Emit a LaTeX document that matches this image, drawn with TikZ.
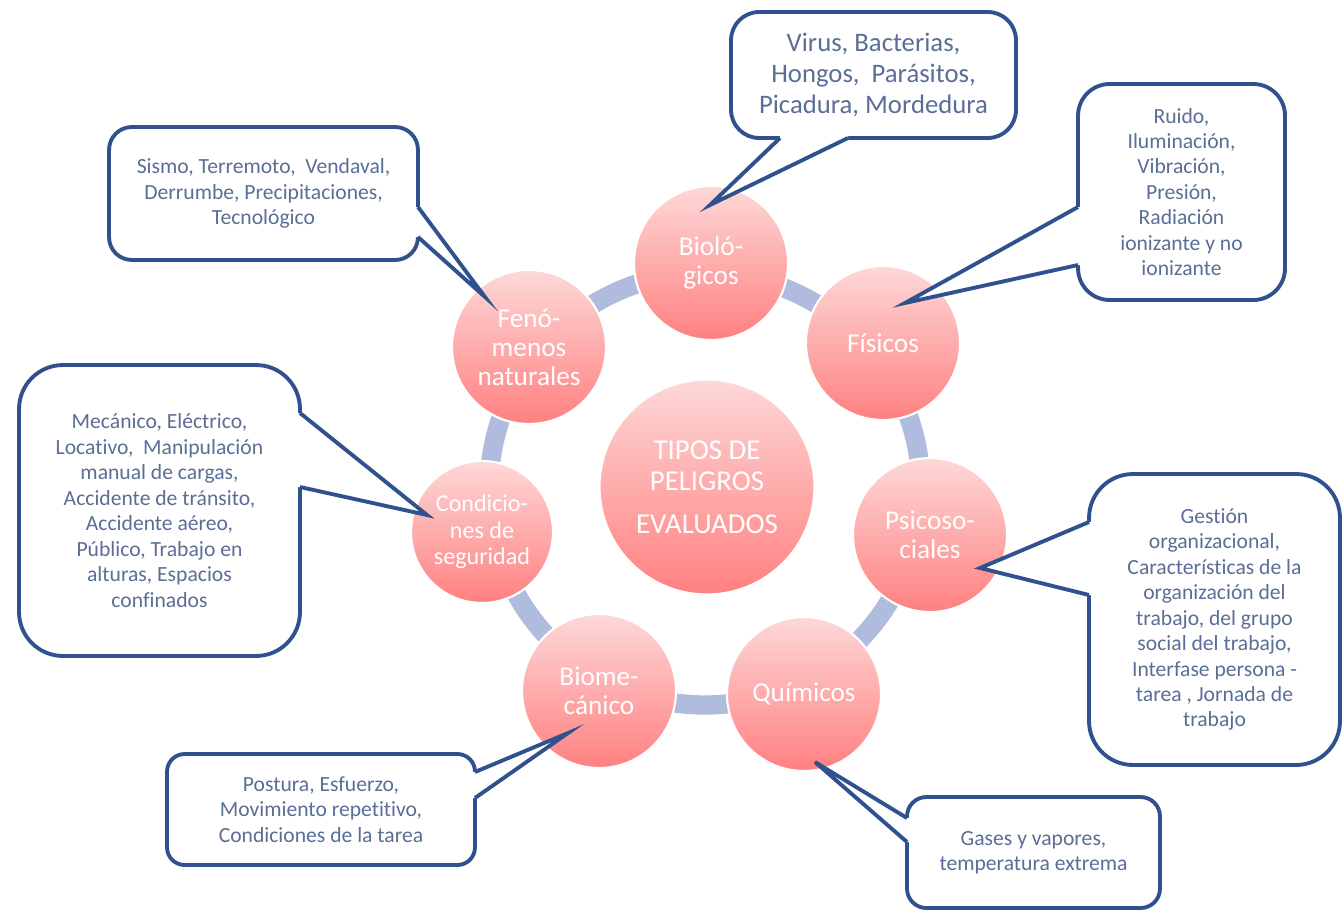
\documentclass[tikz,border=0pt]{standalone}
\usepackage{fontspec}
\setmainfont{Carlito}[Ligatures=CommonOff]
\definecolor{calloutblue}{RGB}{47,82,143}
\definecolor{callouttext}{RGB}{90,110,150}
\definecolor{ringblue}{RGB}{176,188,222}
\definecolor{pinklight}{RGB}{254,216,216}
\definecolor{pinkdark}{RGB}{255,128,128}
\tikzset{
  hazard/.style={circle, draw=white, line width=1.2pt, top color=pinklight, bottom color=pinkdark,
    text=white, align=center, inner sep=0pt, minimum size=3.08cm, font=\fontsize{15.5}{16.4}\selectfont},
  callout/.style={draw=calloutblue, line width=2.2pt, fill=white, text=callouttext, align=center,
    inner sep=0pt, font=\fontsize{12.3}{14.5}\selectfont},
  pointer line/.style={draw=calloutblue, line width=2.2pt, line join=miter},
}
% base 1, tip, base 2, shift into the box
\newcommand{\calloutpointer}[4]{%
  \fill[white] (#1) -- (#2) -- (#3) -- ([shift={(#4)}]#3) -- ([shift={(#4)}]#1) -- cycle;
  \draw[pointer line] (#1) -- (#2) -- (#3);
}
\begin{document}
\begin{tikzpicture}[x=0.02cm, y=-0.02cm]
\useasboundingbox (0,0) rectangle (1344,913);
%
\draw[ringblue, line width=11pt] (705,489) circle[radius=216]; % Anillo
%
\node[hazard] (bio) at (711,263) {Bioló-\\gicos};
\node[hazard] (fis) at (883,343) {Físicos};
\node[hazard] (psi) at (930,535) {Psicoso-\\ciales};
\node[hazard] (qui) at (804,694) {Químicos};
\node[hazard] (bme) at (599,691) {Biome-\\cánico};
\node[hazard, minimum size=2.84cm, font=\fontsize{13.7}{15}\selectfont] (con) at (482,532) {Condicio-\\nes de\\seguridad};
\node[hazard] (fen) at (529,347) {Fenó-\\menos\\naturales};
\node[hazard, minimum size=4.3cm, font=\fontsize{16.4}{17.6}\selectfont] (tipos) at (707,487) {TIPOS DE\\PELIGROS\\[7pt]EVALUADOS};
%
\node[callout, minimum width=5.70cm, minimum height=2.52cm, rounded corners=16pt,
  font=\fontsize{15.2}{17.6}\selectfont] (virus) at (873.5,75)
  {Virus, Bacterias,\\Hongos,~ Parásitos,\\Picadura, Mordedura};
\node[callout, minimum width=4.14cm, minimum height=4.32cm, rounded corners=18pt] (ruido) at (1181.5,192)
  {Ruido,\\Iluminación,\\Vibración,\\Presión,\\Radiación\\ionizante y no\\ionizante};
\node[callout, minimum width=6.18cm, minimum height=2.66cm, rounded corners=13pt] (sismo) at (263.5,193.5)
  {Sismo, Terremoto,~ Vendaval,\\Derrumbe, Precipitaciones,\\Tecnológico};
\node[callout, minimum width=5.62cm, minimum height=5.82cm, rounded corners=25pt] (mecanico) at (159.5,510.5)
  {Mecánico, Eléctrico,\\Locativo,~ Manipulación\\manual de cargas,\\Accidente de tránsito,\\Accidente aéreo,\\Público, Trabajo en\\alturas, Espacios\\confinados};
\node[callout, minimum width=5.02cm, minimum height=5.82cm, rounded corners=25pt] (gestion) at (1214.5,619.5)
  {Gestión\\organizacional,\\Características de la\\organización del\\trabajo, del grupo\\social del trabajo,\\Interfase persona -\\tarea , Jornada de\\trabajo};
\node[callout, minimum width=6.16cm, minimum height=2.22cm, rounded corners=10pt] (postura) at (321,809.5)
  {Postura, Esfuerzo,\\Movimiento repetitivo,\\Condiciones de la tarea};
\node[callout, minimum width=5.06cm, minimum height=2.22cm, rounded corners=11pt] (gases) at (1033.5,852.5)
  {Gases y vapores,\\temperatura extrema};
%
\coordinate (bio tip) at (710,205);
\coordinate (fis tip) at (905,303);
\coordinate (fen tip) at (485,297);
\coordinate (con tip) at (427,515);
\coordinate (psi tip) at (980,568);
\coordinate (bme tip) at (568,733);
\coordinate (qui tip) at (815,762);
\calloutpointer{780,138}{bio tip}{848,138}{0,-4}
\calloutpointer{1078,207}{fis tip}{1078,265}{4,0}
\calloutpointer{418,207}{fen tip}{418,237}{-4,0}
\calloutpointer{300,413}{con tip}{300,487}{-4,0}
\calloutpointer{1089,522}{psi tip}{1089,595}{4,0}
\calloutpointer{475,772}{bme tip}{475,798}{-4,0}
\calloutpointer{907,818}{qui tip}{907,842}{4,0}
\end{tikzpicture}
\end{document}
